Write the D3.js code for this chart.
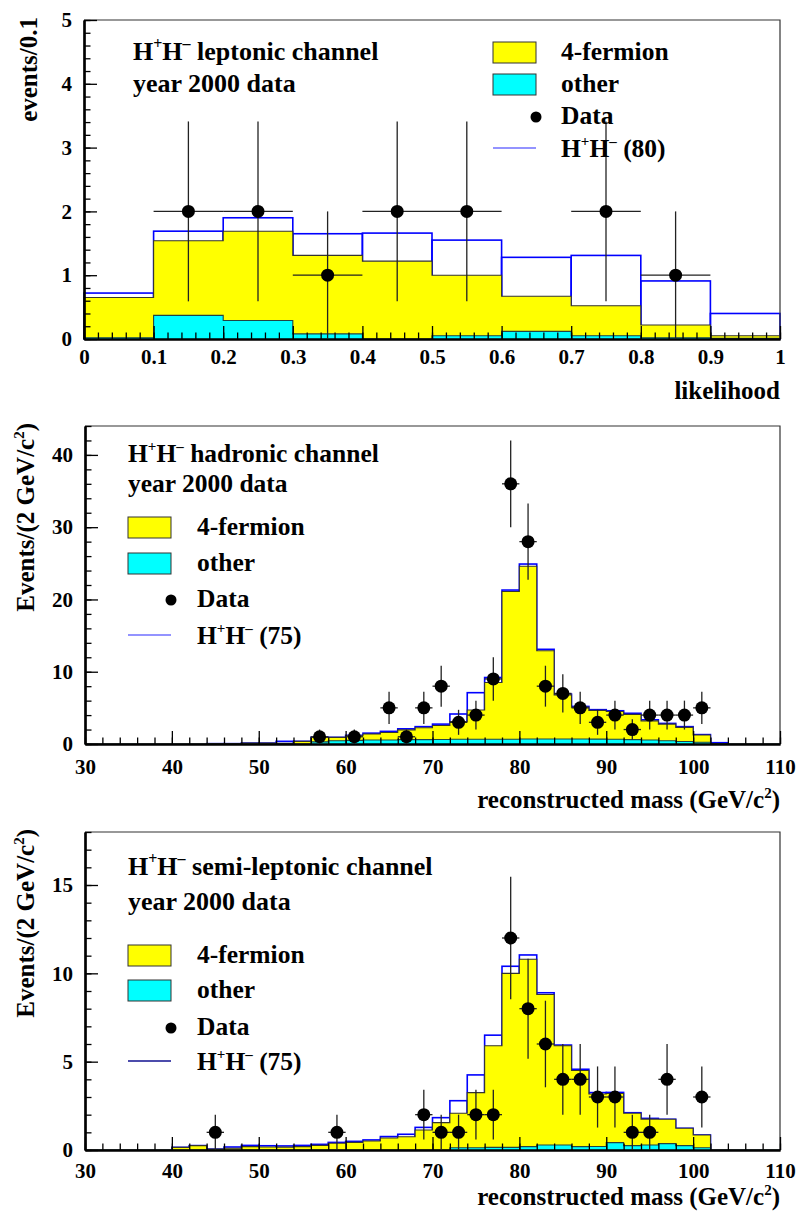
<!DOCTYPE html>
<html><head><meta charset="utf-8">
<script src="https://cdn.jsdelivr.net/npm/d3@7"></script>
<style>body{margin:0;background:#fff}svg{display:block}</style>
</head><body>
<script>
// ---------- DATA ----------
// Panel 1: leptonic channel, likelihood bins (lower edges, width 0.1)
const likeBins = [0,0.1,0.2,0.3,0.4,0.5,0.6,0.7,0.8,0.9];
const lepOther = [0.02,0.37,0.29,0.08,0.0,0.05,0.12,0.05,0.02,0.01];
const lepFourF = [0.63,1.17,1.40,1.23,1.22,0.95,0.55,0.47,0.20,0.04];
const lepSignal = [0.07,0.15,0.21,0.34,0.44,0.55,0.61,0.79,0.69,0.35];
const lepDataX = [0.15,0.25,0.35,0.45,0.55,0.75,0.85];
const lepDataN = [2,2,1,2,2,2,1];
const lepDataErr = [1.41,1.41,1,1.41,1.41,1.41,1];

// Mass bins (lower edges, width 2 GeV/c^2)
const massBins = [30,32,34,36,38,40,42,44,46,48,50,52,54,56,58,60,62,64,66,68,70,72,74,76,78,80,82,84,86,88,90,92,94,96,98,100,102,104,106,108];

// Panel 2: hadronic channel
const hadOther = [0,0,0,0,0,0,0,0,0,0,0,0,0,0.3,0.45,0.5,0.55,0.55,0.6,0.6,0.62,0.65,0.65,0.65,0.65,0.7,0.7,0.7,0.7,0.68,0.65,0.6,0.55,0.45,0.35,0.25,0,0,0,0];
const hadFourF = [0,0,0,0,0,0,0,0.05,0.05,0.12,0.12,0.08,0.37,0.62,0.47,0.65,0.83,1.05,1.35,1.65,1.93,2.45,4.05,7.85,20.45,23.9,12.2,6.1,4.4,3.97,3.85,3.5,2.65,2.3,1.95,1.0,0.05,0,0,0];
const hadSignal = [0,0,0,0,0,0,0,0,0,0,0,0.29,0,0,0,0.05,0.12,0.15,0.15,0.15,0.2,1.05,2.4,0.7,0.2,0.3,0.2,0.1,0.1,0.1,0.1,0.15,0.15,0.1,0.1,0.05,0.13,0,0,0];
const hadDataX = [57,61,65,67,69,71,73,75,77,79,81,83,85,87,89,91,93,95,97,99,101];
const hadDataN = [1,1,5,1,5,8,3,4,9,36,28,8,7,5,3,4,2,4,4,4,5];
const hadDataErr = [1,1,2.24,1,2.24,2.83,1.73,2,3,6,5.29,2.83,2.65,2.24,1.73,2,1.41,2,2,2,2.24];

// Panel 3: semi-leptonic channel
const semiOther = [0,0,0,0,0,0,0,0,0,0,0,0,0,0,0,0,0,0,0,0,0,0.13,0.13,0.15,0.15,0.19,0.28,0.28,0.19,0.2,0.42,0.25,0.28,0.36,0.25,0.13,0,0,0,0];
const semiFourF = [0,0,0,0,0,0.15,0.25,0.05,0.1,0.19,0.17,0.16,0.19,0.26,0.38,0.43,0.51,0.68,0.75,1.13,1.55,1.95,3.12,5.75,9.85,10.61,8.52,5.62,4.31,2.97,2.78,1.83,1.47,1.38,0.98,0.72,0,0,0,0];
const semiSignal = [0,0,0,0,0,0,0,0,0.07,0.07,0.07,0.07,0.07,0.06,0.05,0.06,0.06,0.08,0.14,0.15,0.28,0.71,1.0,0.6,0.4,0.24,0.1,0.04,0.07,0.08,0.06,0.03,0.04,0,0,0,0,0,0,0];
const semiDataX = [45,59,69,71,73,75,77,79,81,83,85,87,89,91,93,95,97,101];
const semiDataN = [1,1,2,1,1,2,2,12,8,6,4,4,3,3,1,1,4,3];
const semiDataErr = [1,1,1.41,1,1,1.41,1.41,3.46,2.83,2.45,2,2,1.73,1.73,1,1,2,1.73];

const legendLabels = ["4-fermion","other","Data"];
// ---------- DRAW ----------
const FONT = "Liberation Serif, Times New Roman, serif";
const svg = d3.select("body").append("svg").attr("width",799).attr("height",1215)
  .attr("font-family",FONT).attr("font-weight","bold");

function hhText(sel, x, y, rest, size){
  const t = sel.append("text").attr("x",x).attr("y",y).attr("font-size",size).attr("fill","#000");
  const s = Math.round(size*0.6);
  t.append("tspan").text("H");
  t.append("tspan").attr("font-size",s).attr("dy",-size*0.42).text("+");
  t.append("tspan").attr("dy",size*0.42).text("H");
  t.append("tspan").attr("font-size",s).attr("dy",-size*0.42).text("\u2013");
  t.append("tspan").attr("dy",size*0.42).text(rest);
  return t;
}

function panel(c){
  const g = svg.append("g");
  const x = d3.scaleLinear().domain(c.xDomain).range([c.left,c.right]);
  const y = d3.scaleLinear().domain(c.yDomain).range([c.bottom,c.top]);
  const rows = c.bins.map((b,i)=>({x0:b, other:c.other[i], fourFermion:c.fourF[i], signal:c.signal[i]}));
  const layers = d3.stack().keys(["other","fourFermion","signal"])(rows);
  const pts = L => { const p = L.map(d=>[x(d.data.x0), y(d[1])]);
    const last = L[L.length-1]; p.push([x(last.data.x0 + c.binW), y(last[1])]); return p; };
  const area = d3.area().curve(d3.curveStepAfter).x(p=>p[0]).y0(y(0)).y1(p=>p[1]);
  const line = d3.line().curve(d3.curveStepAfter);
  const outline = p => line([[p[0][0], y(0)], ...p, [p[p.length-1][0], y(0)]]);
  // signal (total) drawn as per-bin boxes
  g.append("g").selectAll("rect").data(layers[2].filter(d=>d[1]>0)).join("rect")
    .attr("x",d=>x(d.data.x0)).attr("width",d=>x(d.data.x0+c.binW)-x(d.data.x0))
    .attr("y",d=>y(d[1])).attr("height",d=>y(0)-y(d[1]))
    .attr("fill","none").attr("stroke","#0000ff").attr("stroke-width",1.6);
  const pY = pts(layers[1]);
  g.append("path").attr("d", area(pY)).attr("fill","#ffff00");
  g.append("path").attr("d", outline(pY)).attr("fill","none").attr("stroke","#333").attr("stroke-width",1.1);
  const pC = pts(layers[0]);
  g.append("path").attr("d", area(pC)).attr("fill","#00ffff");
  g.append("path").attr("d", outline(pC)).attr("fill","none").attr("stroke","#244").attr("stroke-width",1.1);

  // frame top/right
  g.append("path").attr("d",`M${c.left},${c.top}H${c.right}V${c.bottom}`).attr("fill","none").attr("stroke","#333").attr("stroke-width",1.2);
  // axes
  const styleAxis = a => { a.attr("font-family",FONT).attr("font-size",21).attr("font-weight","bold");
    a.selectAll("text").attr("font-size",21).attr("font-family",FONT).attr("font-weight","bold").attr("fill","#000");
    a.selectAll("line").attr("stroke","#000").attr("stroke-width",1.3); a.select(".domain").attr("stroke","#000").attr("stroke-width",2.2); };
  g.append("g").attr("transform",`translate(0,${c.bottom})`)
    .call(d3.axisBottom(x).tickValues(c.xMinor).tickSize(-6.5).tickSizeOuter(0).tickFormat("")).call(styleAxis);
  g.append("g").attr("transform",`translate(0,${c.bottom})`)
    .call(d3.axisBottom(x).tickValues(c.xMajor).tickSize(-13).tickSizeOuter(0).tickPadding(c.xPad).tickFormat(d3.format("~g"))).call(styleAxis);
  g.append("g").attr("transform",`translate(${c.left},0)`)
    .call(d3.axisLeft(y).tickValues(c.yMinor).tickSize(-6.5).tickSizeOuter(0).tickFormat("")).call(styleAxis);
  g.append("g").attr("transform",`translate(${c.left},0)`)
    .call(d3.axisLeft(y).tickValues(c.yMajor).tickSize(-13).tickSizeOuter(0).tickPadding(12).tickFormat(d3.format("~g"))).call(styleAxis);

  // data points
  const dg = g.append("g");
  c.dataX.forEach((cx,i)=>{
    const n = c.dataN[i], e = c.dataErr[i];
    dg.append("line").attr("x1",x(cx)).attr("x2",x(cx)).attr("y1",y(Math.max(0,n-e))).attr("y2",y(n+e)).attr("stroke","#222").attr("stroke-width",1.3);
    dg.append("line").attr("x1",x(cx-c.binW/2)).attr("x2",x(cx+c.binW/2)).attr("y1",y(n)).attr("y2",y(n)).attr("stroke","#222").attr("stroke-width",1.3);
    dg.append("circle").attr("cx",x(cx)).attr("cy",y(n)).attr("r",6.5).attr("fill","#000");
  });

  // axis titles
  const yt = g.append("text").attr("transform",`translate(${c.yTitleX},${c.top-3}) rotate(-90)`).attr("text-anchor","end").attr("font-size",25);
  c.yTitle(yt);
  const xt = g.append("text").attr("x",c.right).attr("y",c.xTitleY).attr("text-anchor","end").attr("font-size",25);
  c.xTitle(xt);

  // title lines
  hhText(g, c.titleX, c.titleY[0], c.titleRest, c.titleSize);
  g.append("text").attr("x",c.titleX).attr("y",c.titleY[1]).attr("font-size",c.titleSize).text("year 2000 data");

  // legend
  const L = c.leg;
  g.append("rect").attr("x",L.bx).attr("y",L.rows[0]-18).attr("width",43).attr("height",21).attr("fill","#ffff00").attr("stroke","#333").attr("stroke-width",1);
  g.append("text").attr("x",L.tx).attr("y",L.rows[0]).attr("font-size",25.5).text(legendLabels[0]);
  g.append("rect").attr("x",L.bx).attr("y",L.rows[1]-18).attr("width",43).attr("height",21).attr("fill","#00ffff").attr("stroke","#333").attr("stroke-width",1);
  g.append("text").attr("x",L.tx).attr("y",L.rows[1]).attr("font-size",25.5).text(legendLabels[1]);
  g.append("circle").attr("cx",L.bx+43).attr("cy",L.rows[2]-7).attr("r",5.5).attr("fill","#000");
  g.append("text").attr("x",L.tx).attr("y",L.rows[2]).attr("font-size",25.5).text(legendLabels[2]);
  g.append("line").attr("x1",L.bx).attr("x2",L.bx+43).attr("y1",L.rows[3]-9).attr("y2",L.rows[3]-9).attr("stroke",L.lineColor).attr("stroke-width",1.5);
  hhText(g, L.tx, L.rows[3], c.sigLabel, 25.5);
}

const massTitle = t => { t.append("tspan").text("reconstructed mass (GeV/c");
  t.append("tspan").attr("font-size",15).attr("dy",-10).text("2");
  t.append("tspan").attr("dy",10).text(")"); };
const massYTitle = t => { t.append("tspan").text("Events/(2 GeV/c");
  t.append("tspan").attr("font-size",15).attr("dy",-10).text("2");
  t.append("tspan").attr("dy",10).text(")"); };

panel({xDomain:[0,1], yDomain:[0,5], left:84, right:780, top:20, bottom:339,
  bins:likeBins, binW:0.1, other:lepOther, fourF:lepFourF, signal:lepSignal,
  dataX:lepDataX, dataN:lepDataN, dataErr:lepDataErr,
  xMajor:d3.range(0,1.0001,0.1), xMinor:d3.range(0,1.0001,0.02), xPad:10,
  yMajor:[0,1,2,3,4,5], yMinor:d3.range(0,5.0001,0.2),
  yTitleX:37, yTitle:t=>t.text("events/0.1"), xTitleY:399, xTitle:t=>t.text("likelihood"),
  titleX:133, titleY:[60,92], titleSize:26, titleRest:" leptonic channel",
  leg:{bx:493, tx:561, rows:[60,92,124,157], lineColor:"#6f6fff"}, sigLabel:" (80)"});

panel({xDomain:[30,110], yDomain:[0,44], left:85, right:780, top:426, bottom:744,
  bins:massBins, binW:2, other:hadOther, fourF:hadFourF, signal:hadSignal,
  dataX:hadDataX, dataN:hadDataN, dataErr:hadDataErr,
  xMajor:d3.range(30,110.01,10), xMinor:d3.range(30,110.01,2), xPad:15,
  yMajor:[0,10,20,30,40], yMinor:d3.range(0,44.01,2),
  yTitleX:34, yTitle:massYTitle, xTitleY:808, xTitle:massTitle,
  titleX:128, titleY:[462,492], titleSize:25.5, titleRest:" hadronic channel",
  leg:{bx:128, tx:197, rows:[535,571,607,644], lineColor:"#6f6fff"}, sigLabel:" (75)"});

panel({xDomain:[30,110], yDomain:[0,18], left:85, right:780, top:832, bottom:1150,
  bins:massBins, binW:2, other:semiOther, fourF:semiFourF, signal:semiSignal,
  dataX:semiDataX, dataN:semiDataN, dataErr:semiDataErr,
  xMajor:d3.range(30,110.01,10), xMinor:d3.range(30,110.01,2), xPad:13,
  yMajor:[0,5,10,15], yMinor:d3.range(0,18.01,1),
  yTitleX:34, yTitle:massYTitle, xTitleY:1205, xTitle:massTitle,
  titleX:128, titleY:[875,910], titleSize:26, titleRest:" semi-leptonic channel",
  leg:{bx:128, tx:197, rows:[963,998,1035,1070], lineColor:"#101090"}, sigLabel:" (75)"});
</script>
</body></html>
